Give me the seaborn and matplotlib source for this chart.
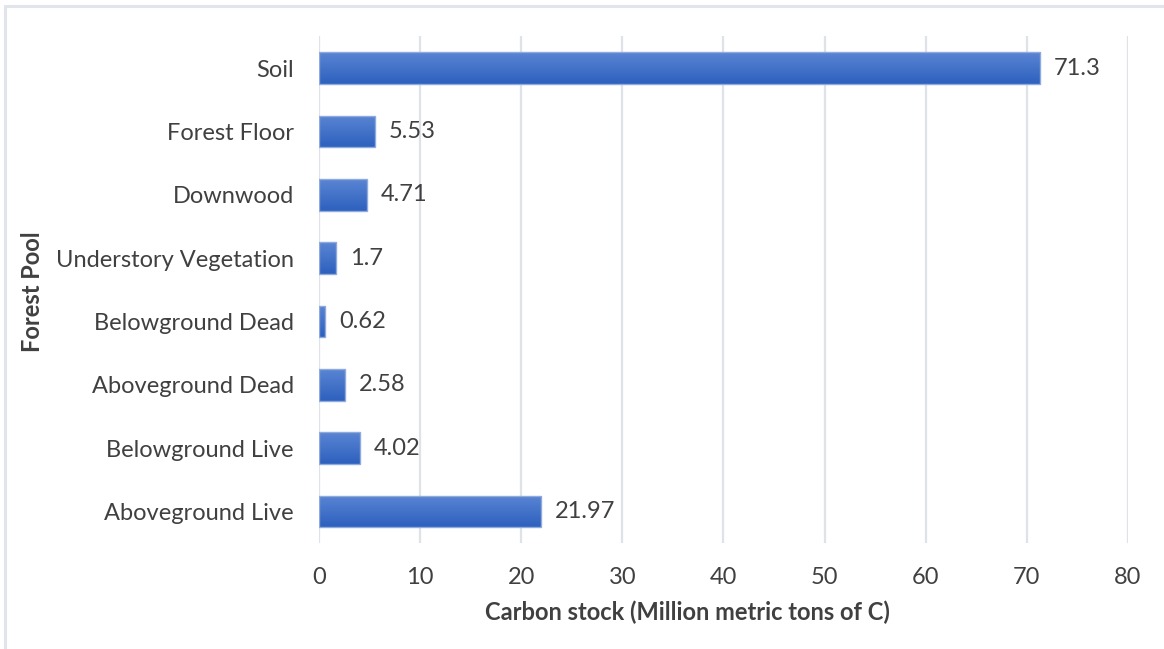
import numpy as np
import pandas as pd
import matplotlib
matplotlib.use("Agg")
import matplotlib.pyplot as plt
import seaborn as sns
from matplotlib.colors import LinearSegmentedColormap
from matplotlib.lines import Line2D

# Carbon stock by forest pool (million metric tons of C)
pools = ["Soil", "Forest Floor", "Downwood", "Understory Vegetation",
         "Belowground Dead", "Aboveground Dead", "Belowground Live",
         "Aboveground Live"]
stock = [71.3, 5.53, 4.71, 1.7, 0.62, 2.58, 4.02, 21.97]
stock_labels = ["71.3", "5.53", "4.71", "1.7", "0.62", "2.58", "4.02", "21.97"]
x_ticks = [0, 10, 20, 30, 40, 50, 60, 70, 80]

df = pd.DataFrame({"pool": pools, "stock": stock})

sns.set_theme(style="white")
plt.rcParams["font.family"] = ["Lato", "DejaVu Sans"]

text_color = "#404040"
grid_color = "#DEE2E9"
fs = 17

fig = plt.figure(figsize=(11.64, 6.49), dpi=100)
ax = fig.add_axes([0.274, 0.163, 0.695, 0.781])

sns.barplot(data=df, x="stock", y="pool", order=pools, orient="h",
            width=0.5, color="#3D6CC7", edgecolor="#8FAADC", linewidth=1.0,
            ax=ax, zorder=3)

# vertical gradient fill inside each bar
grad = LinearSegmentedColormap.from_list("bar", ["#5A85D3", "#2D60BE"])
gradient = np.linspace(0, 1, 256).reshape(-1, 1)
for patch in ax.patches:
    x0, y0 = patch.get_x(), patch.get_y()
    w, h = patch.get_width(), patch.get_height()
    img = ax.imshow(gradient, cmap=grad, aspect="auto",
                    extent=[x0, x0 + w, y0 + h, y0], origin="upper",
                    zorder=3.5, interpolation="bicubic")
    img.set_clip_path(patch)
    patch.set_facecolor("none")
    patch.set_zorder(4)

for patch, lab in zip(ax.patches, stock_labels):
    ax.text(patch.get_x() + patch.get_width() + 1.4,
            patch.get_y() + patch.get_height() / 2, lab,
            va="center", ha="left", fontsize=fs, color=text_color, zorder=5)

ax.set_xlim(0, 80)
ax.set_ylim(len(pools) - 0.5, -0.5)
ax.set_xticks(x_ticks)
ax.set_xticklabels([str(t) for t in x_ticks])
ax.grid(axis="x", color=grid_color, linewidth=1.6, zorder=0)
ax.grid(axis="y", visible=False)
for s in ax.spines.values():
    s.set_visible(False)
ax.tick_params(axis="both", length=0, labelsize=fs, labelcolor=text_color)
ax.tick_params(axis="x", pad=17)
ax.tick_params(axis="y", pad=18)

ax.set_xlabel("Carbon stock (Million metric tons of C)", fontsize=fs,
              fontweight="bold", color=text_color, va="center")
ax.xaxis.set_label_coords(0.456, -0.136)
ax.set_ylabel("Forest Pool", fontsize=fs, fontweight="bold",
              color=text_color, va="center")
ax.yaxis.set_label_coords(-0.3535, 0.497)

# light frame along the top and left edges of the figure
fig.add_artist(Line2D([5 / 1164, 1], [1 - 6 / 649, 1 - 6 / 649],
                      transform=fig.transFigure, color="#E1E4EB", linewidth=2.2))
fig.add_artist(Line2D([5 / 1164, 5 / 1164], [0, 1 - 6 / 649],
                      transform=fig.transFigure, color="#E1E4EB", linewidth=2.2))

fig.savefig("out.png", dpi=100)
